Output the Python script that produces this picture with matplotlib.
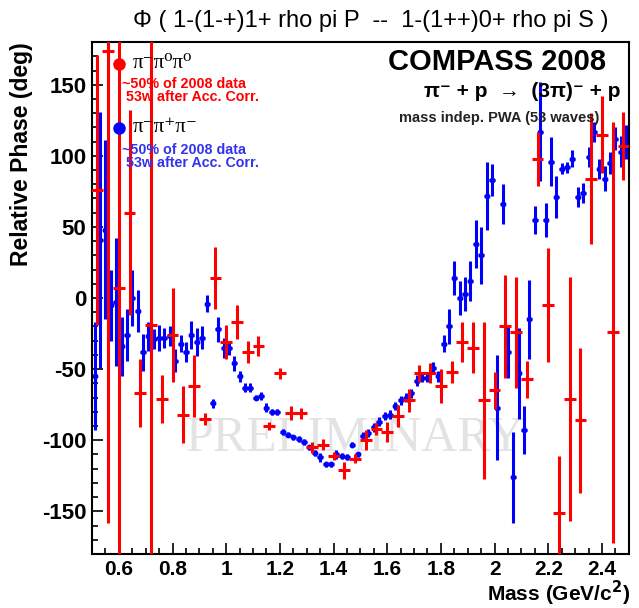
import matplotlib
matplotlib.use("Agg")
import matplotlib.pyplot as plt
from matplotlib.ticker import MultipleLocator
import numpy as np

plt.rcParams['font.family'] = ['Liberation Sans', 'DejaVu Sans']
plt.rcParams['axes.unicode_minus'] = False

# pi- pi0 pi0 : 40 MeV bins
mass_neutral = [0.52, 0.56, 0.60, 0.64, 0.68, 0.72, 0.76, 0.80, 0.84, 0.88,
                0.92, 0.96, 1.00, 1.04, 1.08, 1.12, 1.16, 1.20, 1.24, 1.28,
                1.32, 1.36, 1.40, 1.44, 1.48, 1.52, 1.56, 1.60, 1.64, 1.68,
                1.72, 1.76, 1.80, 1.84, 1.88, 1.92, 1.96, 2.00, 2.04, 2.08,
                2.12, 2.16, 2.20, 2.24, 2.28, 2.32, 2.36, 2.40, 2.44, 2.48]
phase_neutral = [76, 174, 7, 60, -67, -19, -71, -26, -82, -62,
                 -85, 14, -31, -17, -38, -34, -90, -53, -81, -81,
                 -105, -103, -111, -121, -113, -100, -92, -94, -83, -72,
                 -53, -53, -62, -52, -31, -35, -72, -65, -20, -24,
                 -57, 98, -5, -151, -71, -86, 84, 115, -24, 107]
err_neutral = [95, 332, 220, 72, 24, 220, 17, 33, 20, 22,
               4, 22, 12, 12, 8, 7, 3, 4, 5, 4,
               4, 4, 3, 6, 3, 7, 4, 7, 8, 8,
               6, 7, 12, 8, 14, 18, 55, 13, 36, 39,
               13, 19, 40, 40, 86, 51, 46, 27, 148, 24]

# pi- pi+ pi- : 20 MeV bins
mass_charged = [0.51, 0.53, 0.55, 0.57, 0.59, 0.61, 0.63, 0.65, 0.67, 0.69,
                0.71, 0.73, 0.75, 0.77, 0.79, 0.81, 0.83, 0.85, 0.87, 0.89,
                0.91, 0.93, 0.95, 0.97, 0.99, 1.01, 1.03, 1.05, 1.07, 1.09,
                1.11, 1.13, 1.15, 1.17, 1.19, 1.21, 1.23, 1.25, 1.27, 1.29,
                1.31, 1.33, 1.35, 1.37, 1.39, 1.41, 1.43, 1.45, 1.47, 1.49,
                1.51, 1.53, 1.55, 1.57, 1.59, 1.61, 1.63, 1.65, 1.67, 1.69,
                1.71, 1.73, 1.75, 1.77, 1.79, 1.81, 1.83, 1.85, 1.87, 1.89,
                1.91, 1.93, 1.95, 1.97, 1.99, 2.01, 2.03, 2.05, 2.07, 2.09,
                2.11, 2.13, 2.15, 2.17, 2.19, 2.21, 2.23, 2.25, 2.27, 2.29,
                2.31, 2.33, 2.35, 2.37, 2.39, 2.41, 2.43, 2.45, 2.47, 2.49]
phase_charged = [-55, 41, 48, -5, -3, -34, -26, 0, -9, -38,
                 -27, -29, -28, -28, -27, -44, -32, -38, -26, -31,
                 -28, -4, -74, -22, -35, -35, -46, -55, -63, -63,
                 -70, -69, -77, -80, -80, -94, -96, -98, -99, -101,
                 -105, -109, -112, -117, -117, -110, -111, -112, -103, -110,
                 -97, -95, -91, -87, -83, -82, -76, -72, -70, -67,
                 -58, -56, -56, -49, -55, -32, -20, 14, 0, 3,
                 12, 38, 30, 72, 83, -77, 66, -38, -126, -53,
                 -93, -15, 55, 117, 55, 96, 71, 91, 92, 98,
                 71, 74, 99, 117, 91, 84, 95, 112, 103, 110]
err_charged = [38, 90, 63, 25, 45, 21, 18, 20, 15, 13,
               10, 7, 9, 7, 7, 8, 6, 7, 10, 10,
               8, 6, 3, 9, 7, 5, 5, 4, 3, 3,
               2, 3, 3, 2, 2, 2, 2, 2, 2, 2,
               2, 2, 3, 2, 2, 3, 2, 2, 2, 2,
               3, 3, 3, 3, 3, 3, 3, 3, 3, 3,
               4, 3, 3, 4, 4, 6, 12, 12, 12, 12,
               14, 17, 20, 24, 11, 37, 14, 18, 32, 32,
               17, 28, 10, 35, 12, 17, 15, 4, 4, 6,
               7, 7, 7, 7, 7, 9, 8, 8, 11, 12]

x_ticks = [0.6, 0.8, 1.0, 1.2, 1.4, 1.6, 1.8, 2.0, 2.2, 2.4]
x_tick_labels = ["0.6", "0.8", "1", "1.2", "1.4", "1.6", "1.8", "2", "2.2", "2.4"]
y_ticks = [-150, -100, -50, 0, 50, 100, 150]

fig = plt.figure(figsize=(6.39, 6.08), dpi=100)
ax = fig.add_axes([0.144, 0.0888, 0.840, 0.842])

# faint watermark behind the data
ax.text(0.49, 0.225, "PRELIMINARY", transform=ax.transAxes, ha='center', va='center',
        fontsize=36, color='#e3e3e3', family=['Liberation Serif', 'DejaVu Serif'], zorder=0)

ax.errorbar(mass_charged, phase_charged, yerr=err_charged, xerr=0.01,
            fmt='o', ms=3.2, color='#0000ff', ecolor='#0000ff',
            elinewidth=2.2, capsize=0, zorder=2)
ax.errorbar(mass_neutral, phase_neutral, yerr=err_neutral, xerr=0.022,
            fmt='none', ecolor='#ff0000', elinewidth=2.2, capsize=0, zorder=3)

ax.set_xlim(0.5, 2.5)
ax.set_ylim(-180, 180)
ax.set_xticks(x_ticks)
ax.set_xticklabels(x_tick_labels)
ax.set_yticks(y_ticks)
ax.xaxis.set_minor_locator(MultipleLocator(0.05))
ax.yaxis.set_minor_locator(MultipleLocator(10))
ax.tick_params(which='both', direction='in', top=False, right=False, width=1.2)
ax.tick_params(which='major', length=8)
ax.tick_params(axis='x', which='major', pad=4, labelsize=15)
ax.tick_params(axis='y', which='major', pad=4, labelsize=16)
ax.tick_params(which='minor', length=4)
for lab in ax.get_xticklabels() + ax.get_yticklabels():
    lab.set_fontweight('bold')
for sp in ax.spines.values():
    sp.set_linewidth(1.5)

fig.text(0.58, 1 - 21 / 608, "\u03a6 ( 1-(1-+)1+ rho pi P  --  1-(1++)0+ rho pi S )",
         ha='center', va='center', fontsize=17)
fig.text(0.986, 6.5 / 608, "Mass (GeV/c$^{\\mathbf{2}}$)", ha='right', va='baseline',
         fontsize=15, fontweight='bold')
fig.text(0.034, 0.931, "Relative Phase (deg)", rotation=90, ha='center', va='top',
         fontsize=16.5, fontweight='bold')

# experiment labels
ax.text(0.958, 0.962, "COMPASS 2008", transform=ax.transAxes, ha='right', va='center',
        fontsize=21, fontweight='bold')
ax.text(0.985, 0.904, "\u03c0\u207b + p  \u2192  (3\u03c0)\u207b + p", transform=ax.transAxes,
        ha='right', va='center', fontsize=15, fontweight='bold')
ax.text(0.945, 0.851, "mass indep. PWA (53 waves)", transform=ax.transAxes,
        ha='right', va='center', fontsize=10.5, fontweight='bold', color='#222222')

# legend entries
ax.plot([0.5 + (119 - 92) / 268.5], [(297.5 - 64) / 1.418], 'o', color='#ff0000', ms=8, zorder=5)
ax.plot([0.5 + (119 - 92) / 268.5], [(297.5 - 128) / 1.418], 'o', color='#0000ff', ms=8, zorder=5)
ax.text(0.076, 0.958, "\u03c0\u207b\u03c0\u2070\u03c0\u2070", transform=ax.transAxes,
        ha='left', va='center', fontsize=15, family=['Liberation Serif', 'DejaVu Serif'], zorder=6)
ax.text(0.056, 0.918, "~50% of 2008 data", transform=ax.transAxes, ha='left', va='center',
        fontsize=10.3, fontweight='bold', color='#ff0000', zorder=6)
ax.text(0.063, 0.893, "53w after Acc. Corr.", transform=ax.transAxes, ha='left', va='center',
        fontsize=10.3, fontweight='bold', color='#ff0000', zorder=6)
ax.text(0.076, 0.833, "\u03c0\u207b\u03c0\u207a\u03c0\u207b", transform=ax.transAxes,
        ha='left', va='center', fontsize=15, family=['Liberation Serif', 'DejaVu Serif'], zorder=6)
ax.text(0.056, 0.789, "~50% of 2008 data", transform=ax.transAxes, ha='left', va='center',
        fontsize=10.3, fontweight='bold', color='#3333ee', zorder=6)
ax.text(0.063, 0.764, "53w after Acc. Corr.", transform=ax.transAxes, ha='left', va='center',
        fontsize=10.3, fontweight='bold', color='#3333ee', zorder=6)

fig.savefig("out.png", dpi=100, facecolor='white')
